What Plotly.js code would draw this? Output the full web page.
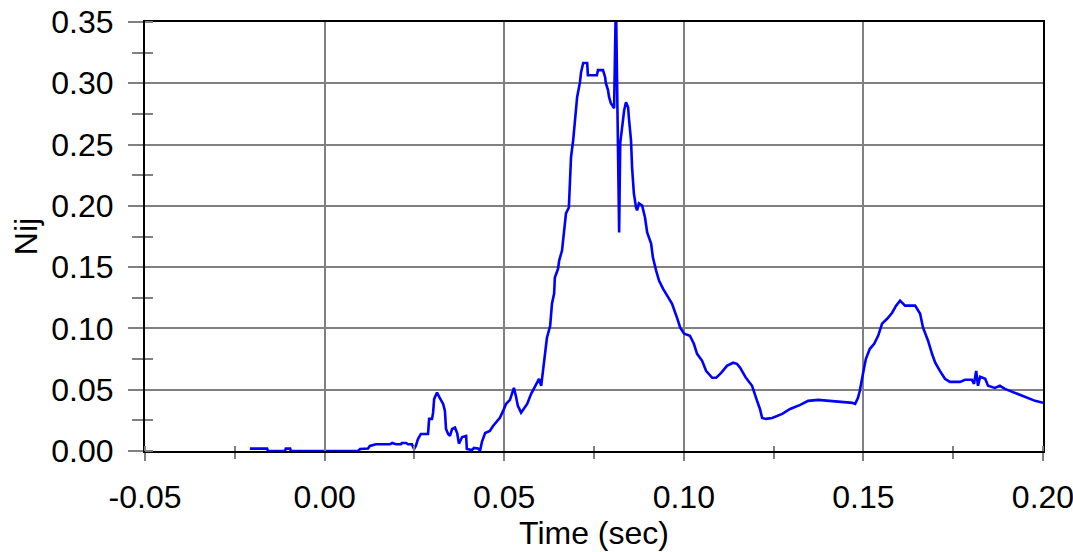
<!DOCTYPE html>
<html>
<head>
<meta charset="utf-8">
<script src="https://cdn.plot.ly/plotly-3.0.1.min.js"></script>
<style>html,body{margin:0;padding:0;background:#fff;}#chart{width:1073px;height:552px;}</style>
</head>
<body>
<div id="chart"></div>
<script>
// Time (sec)
var timeSec = [
-0.0208,-0.0160,-0.0158,-0.0110,-0.0108,-0.0096,-0.0094,0.0093,0.0099,0.0121,
0.0126,0.0143,0.0182,0.0188,0.0199,0.0213,0.0215,0.0227,0.0232,0.0243,
0.0249,0.0254,0.0260,0.0268,0.0288,0.0291,0.0299,0.0302,0.0305,0.0310,
0.0313,0.0319,0.0324,0.0330,0.0335,0.0338,0.0344,0.0349,0.0355,0.0363,
0.0369,0.0374,0.0383,0.0394,0.0396,0.0410,0.0416,0.0427,0.0433,0.0438,
0.0447,0.0460,0.0469,0.0480,0.0488,0.0497,0.0505,0.0516,0.0522,0.0527,
0.0533,0.0538,0.0547,0.0555,0.0564,0.0575,0.0589,0.0597,0.0603,0.0608,
0.0614,0.0619,0.0628,0.0633,0.0639,0.0641,0.0650,0.0653,0.0661,0.0666,
0.0672,0.0680,0.0683,0.0686,0.0692,0.0697,0.0703,0.0711,0.0714,0.0720,
0.0731,0.0733,0.0758,0.0761,0.0775,0.0781,0.0783,0.0789,0.0792,0.0797,
0.0806,0.0811,0.0820,0.0823,0.0828,0.0834,0.0839,0.0845,0.0847,0.0853,
0.0856,0.0861,0.0867,0.0870,0.0875,0.0884,0.0892,0.0898,0.0909,0.0914,
0.0923,0.0931,0.0942,0.0953,0.0967,0.0981,0.0990,0.1001,0.1017,0.1028,
0.1037,0.1051,0.1062,0.1079,0.1090,0.1104,0.1120,0.1137,0.1148,0.1157,
0.1173,0.1190,0.1198,0.1204,0.1212,0.1218,0.1229,0.1246,0.1274,0.1296,
0.1324,0.1346,0.1374,0.1407,0.1435,0.1469,0.1477,0.1485,0.1490,0.1496,
0.1502,0.1507,0.1518,0.1530,0.1541,0.1552,0.1566,0.1580,0.1591,0.1602,
0.1616,0.1644,0.1658,0.1666,0.1680,0.1691,0.1700,0.1713,0.1727,0.1741,
0.1769,0.1783,0.1802,0.1808,0.1814,0.1819,0.1825,0.1839,0.1847,0.1866,
0.1880,0.1894,0.1922,0.1950,0.1978,0.2000
];
// Nij
var nij = [
0.0019,0.0019,0.0000,0.0000,0.0019,0.0019,0.0000,0.0000,0.0016,0.0020,
0.0041,0.0055,0.0055,0.0065,0.0055,0.0055,0.0065,0.0065,0.0055,0.0055,
0.0016,0.0041,0.0098,0.0139,0.0139,0.0262,0.0262,0.0311,0.0425,0.0466,
0.0477,0.0442,0.0409,0.0384,0.0327,0.0180,0.0139,0.0123,0.0180,0.0191,
0.0147,0.0060,0.0114,0.0123,0.0016,0.0008,0.0025,0.0020,0.0004,0.0074,
0.0147,0.0164,0.0204,0.0245,0.0270,0.0327,0.0384,0.0417,0.0474,0.0515,
0.0442,0.0368,0.0313,0.0343,0.0384,0.0466,0.0548,0.0589,0.0532,0.0654,
0.0760,0.0924,0.1022,0.1202,0.1284,0.1415,0.1488,0.1554,0.1635,0.1783,
0.1938,0.1987,0.2183,0.2396,0.2535,0.2698,0.2887,0.3009,0.3091,0.3165,
0.3165,0.3066,0.3066,0.3107,0.3107,0.3050,0.3001,0.2944,0.2887,0.2837,
0.2797,0.3700,0.1783,0.2511,0.2633,0.2780,0.2846,0.2805,0.2723,0.2535,
0.2314,0.2102,0.1987,0.1963,0.2020,0.2003,0.1905,0.1783,0.1693,0.1578,
0.1472,0.1390,0.1325,0.1267,0.1202,0.1088,0.1006,0.0957,0.0940,0.0875,
0.0793,0.0736,0.0654,0.0597,0.0597,0.0638,0.0695,0.0720,0.0711,0.0679,
0.0597,0.0532,0.0450,0.0409,0.0343,0.0270,0.0262,0.0270,0.0303,0.0343,
0.0376,0.0409,0.0417,0.0409,0.0401,0.0393,0.0384,0.0433,0.0491,0.0572,
0.0679,0.0752,0.0834,0.0875,0.0940,0.1039,0.1079,0.1128,0.1186,0.1227,
0.1186,0.1186,0.1120,0.1006,0.0900,0.0793,0.0720,0.0654,0.0589,0.0564,
0.0564,0.0581,0.0581,0.0548,0.0654,0.0532,0.0605,0.0589,0.0532,0.0515,
0.0532,0.0507,0.0474,0.0442,0.0409,0.0393
];
var xTickVals = [-0.05, 0.00, 0.05, 0.10, 0.15, 0.20];
var xTickText = ["-0.05", "0.00", "0.05", "0.10", "0.15", "0.20"];
var yTickVals = [0.00, 0.05, 0.10, 0.15, 0.20, 0.25, 0.30, 0.35];
var yTickText = ["0.00", "0.05", "0.10", "0.15", "0.20", "0.25", "0.30", "0.35"];
var xRange = [-0.05, 0.20];
var yRange = [0, 0.35];

var fontFam = "Liberation Sans, Arial, sans-serif";
var fs = 32;
var traces = [
  {x: timeSec, y: nij, type: 'scatter', mode: 'lines', line: {color: '#0000ff', width: 2.6}, hoverinfo: 'skip', cliponaxis: true},
  {x: [xRange[0]], y: [yRange[0]], xaxis: 'x2', yaxis: 'y2', type: 'scatter', mode: 'markers', marker: {opacity: 0}, hoverinfo: 'skip', showlegend: false}
];
var layout = {
  width: 1073, height: 552,
  margin: {l: 145, r: 30, t: 22, b: 101},
  paper_bgcolor: '#fff', plot_bgcolor: '#fff',
  showlegend: false,
  font: {family: fontFam, size: fs, color: '#000'},
  xaxis: {
    range: xRange, tickvals: xTickVals, ticktext: xTickText,
    showgrid: true, gridcolor: '#808080', gridwidth: 2,
    zeroline: false, showline: true, linecolor: '#000', linewidth: 2, mirror: true,
    ticks: 'outside', ticklen: 8, tickwidth: 2, tickcolor: '#808080',
    minor: {dtick: 0.025, ticks: 'outside', ticklen: 6, tickwidth: 2, tickcolor: '#808080', showgrid: false},
    ticklabelstandoff: 9, ticklabeloverflow: 'allow',
    tickfont: {family: fontFam, size: fs, color: '#000'},
    title: {text: 'Time (sec)', font: {family: fontFam, size: fs, color: '#000'}, standoff: 2}
  },
  yaxis: {
    range: yRange, tickvals: yTickVals, ticktext: yTickText,
    showgrid: true, gridcolor: '#808080', gridwidth: 2,
    zeroline: false, showline: true, linecolor: '#000', linewidth: 2, mirror: true,
    ticks: 'outside', ticklen: 15, tickwidth: 2, tickcolor: '#808080',
    minor: {dtick: 0.025, ticks: 'outside', ticklen: 11, tickwidth: 2, tickcolor: '#808080', showgrid: false},
    ticklabelstandoff: 8, ticklabeloverflow: 'allow',
    tickfont: {family: fontFam, size: fs, color: '#000'},
    title: {text: 'Nij', font: {family: fontFam, size: fs, color: '#000'}, standoff: 4}
  },
  xaxis2: {
    range: xRange, overlaying: 'x', anchor: 'y', side: 'bottom',
    showgrid: false, zeroline: false, showline: false, showticklabels: false,
    tickvals: xTickVals, ticks: '',
    minor: {dtick: 0.025, ticks: 'inside', ticklen: 5, tickwidth: 2, tickcolor: '#808080', showgrid: false}
  },
  yaxis2: {
    range: yRange, overlaying: 'y', anchor: 'x', side: 'left',
    showgrid: false, zeroline: false, showline: false, showticklabels: false,
    tickvals: yTickVals, ticks: '',
    minor: {dtick: 0.025, ticks: 'inside', ticklen: 8, tickwidth: 2, tickcolor: '#808080', showgrid: false}
  }
};
Plotly.newPlot('chart', traces, layout, {staticPlot: true, displayModeBar: false});
</script>
</body>
</html>
